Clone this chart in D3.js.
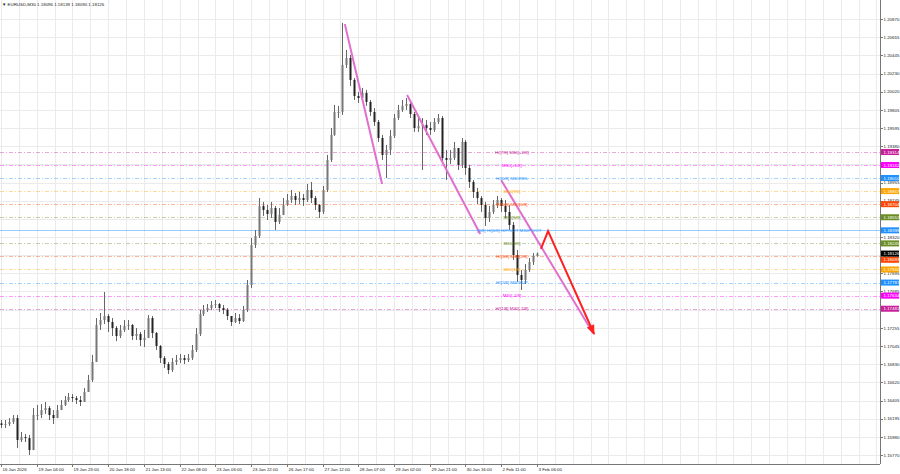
<!DOCTYPE html>
<html><head><meta charset="utf-8">
<script src="https://cdn.jsdelivr.net/npm/d3@7"></script>
<style>body{margin:0;background:#fff}svg{display:block}text{font-family:"Liberation Sans",Arial,sans-serif}</style>
</head><body><svg id="c" width="900" height="474"></svg>
<script>
const titleText = "EURUSD,M30  1.18096 1.18139 1.18090 1.18126";
const closes = [1.16121,1.16132,1.16156,1.16202,1.15945,1.15980,1.15968,1.15828,1.16238,1.16238,
1.16296,1.16319,1.16238,1.16202,1.16296,1.16355,1.16413,1.16448,1.16436,1.16413,
1.16390,1.16507,1.16647,1.16858,1.17291,1.17349,1.17396,1.17326,1.17255,1.17162,
1.17232,1.17279,1.17291,1.17162,1.17185,1.17115,1.17138,1.17372,1.17197,1.17045,
1.16904,1.16834,1.16764,1.16858,1.16881,1.16904,1.16881,1.16904,1.16998,1.17185,
1.17419,1.17466,1.17489,1.17525,1.17536,1.17489,1.17466,1.17396,1.17326,1.17372,
1.17337,1.17466,1.17759,1.18227,1.18332,1.18683,1.18636,1.18589,1.18659,1.18496,
1.18578,1.18695,1.18753,1.18800,1.18753,1.18776,1.18753,1.18870,1.18776,1.18695,
1.18613,1.18870,1.19221,1.19514,1.19783,1.19783,1.20333,1.20414,1.20157,1.19970,
1.19946,1.20005,1.19900,1.19783,1.19666,1.19478,1.19280,1.19338,1.19502,1.19712,
1.19806,1.19853,1.19876,1.19759,1.19595,1.19619,1.19631,1.19595,1.19572,1.19666,
1.19712,1.19244,1.19221,1.19244,1.19361,1.19163,1.19432,1.19127,1.18964,1.18847,
1.18776,1.18695,1.18542,1.18613,1.18695,1.18753,1.18683,1.18613,1.18461,1.18110,
1.17876,1.17817,1.17934,1.18028,1.18098,1.18126];
const highs = [1.16179,1.16179,1.16202,1.16238,1.16238,1.16039,1.16015,1.16004,1.16319,1.16355,
1.16366,1.16390,1.16343,1.16296,1.16355,1.16413,1.16460,1.16495,1.16483,1.16460,
1.16460,1.16553,1.16706,1.16940,1.17372,1.17431,1.17677,1.17419,1.17372,1.17279,
1.17291,1.17349,1.17349,1.17302,1.17255,1.17209,1.17232,1.17408,1.17396,1.17209,
1.17057,1.16928,1.16858,1.16904,1.16940,1.16951,1.16940,1.16951,1.17057,1.17255,
1.17466,1.17525,1.17536,1.17571,1.17583,1.17548,1.17525,1.17489,1.17396,1.17431,
1.17419,1.17513,1.17817,1.18308,1.18402,1.18776,1.18730,1.18695,1.18730,1.18683,
1.18659,1.18776,1.18823,1.18870,1.18835,1.18847,1.18823,1.18940,1.18964,1.18800,
1.18706,1.18917,1.19280,1.19595,1.19865,1.19853,1.20824,1.20508,1.20450,1.20180,
1.20017,1.20063,1.20040,1.19923,1.19829,1.19689,1.19514,1.19397,1.19572,1.19759,
1.19865,1.19923,1.19946,1.19900,1.19783,1.19712,1.19712,1.19689,1.19666,1.19712,
1.19759,1.19736,1.19338,1.19338,1.19432,1.19361,1.19478,1.19455,1.19163,1.18987,
1.18893,1.18800,1.18730,1.18683,1.18753,1.18800,1.18776,1.18753,1.18695,1.18496,
1.18168,1.17934,1.18004,1.18074,1.18132,1.18139];
const lows = [1.16085,1.16085,1.16109,1.16132,1.15851,1.15922,1.15922,1.15770,1.15828,1.16179,
1.16202,1.16249,1.16179,1.16132,1.16226,1.16296,1.16343,1.16390,1.16390,1.16366,
1.16343,1.16413,1.16507,1.16624,1.16858,1.17232,1.17302,1.17209,1.17162,1.17103,
1.17138,1.17209,1.17232,1.17115,1.17115,1.17045,1.17033,1.17162,1.17138,1.16998,
1.16846,1.16787,1.16717,1.16741,1.16823,1.16846,1.16834,1.16858,1.16881,1.16975,
1.17162,1.17396,1.17443,1.17466,1.17489,1.17443,1.17419,1.17349,1.17279,1.17314,
1.17302,1.17326,1.17443,1.17723,1.18191,1.18308,1.18566,1.18519,1.18542,1.18402,
1.18472,1.18613,1.18683,1.18718,1.18695,1.18706,1.18683,1.18730,1.18718,1.18636,
1.18542,1.18589,1.18847,1.19198,1.19502,1.19712,1.19748,1.20297,1.20087,1.19923,
1.19888,1.19923,1.19853,1.19736,1.19619,1.19432,1.19221,1.19010,1.19280,1.19478,
1.19689,1.19783,1.19806,1.19712,1.19549,1.19549,1.19104,1.19514,1.19514,1.19549,
1.19642,1.19174,1.18987,1.19174,1.19221,1.19104,1.19127,1.19046,1.18893,1.18776,
1.18706,1.18613,1.18449,1.18496,1.18589,1.18659,1.18613,1.18542,1.18402,1.18051,
1.17794,1.17700,1.17770,1.17911,1.17993,1.18090];
const firstOpen = 1.16140;
const lastOpen = 1.18096;

const timeLabels = ["16 Jan 2026","19 Jan 04:00","19 Jan 23:00","20 Jan 18:00","21 Jan 13:00","22 Jan 08:00","23 Jan 03:00","23 Jan 22:00","26 Jan 17:00","27 Jan 12:00","28 Jan 07:00","29 Jan 02:00","29 Jan 21:00","30 Jan 16:00","2 Feb 11:00","3 Feb 06:00"];
const timeLabelBars = [0,9,18,27,36,45,54,63,72,81,90,99,108,117,126,135];
const priceTicks = ["1.20870","1.20655","1.20445","1.20230","1.20020","1.19805","1.19595","1.19380","1.19170","1.18955","1.18745","1.18535","1.18320","1.18110","1.17895","1.17685","1.17470","1.17255","1.17045","1.16830","1.16620","1.16405","1.16195","1.15980","1.15770"];

const levelNames = ["H/[7/8] M30[+2/8]","M30[+1/8]","H/[6/8] M30RES","M30[7/8]","H/[5/8] M30[6/8]","M30[5/8]","[3/8] H/[4/8] H/PIVOT M30PIVOT","M30[3/8]","H/[3/8] M30[2/8]","M30[1/8]","H/[2/8] M30SUP","M30[-1/8]","H/[1/8] M30[-2/8]"];
const levelPrices = [1.19314,1.19162,1.19010,1.18857,1.18704,1.18551,1.18398,1.18245,1.18093,1.17940,1.17787,1.17634,1.17481];
const levelColors = ["#c8209a","#ff00ff","#1e90ff","#ffa500","#ff4500","#6b8e23","#1e90ff","#6b8e23","#ff4500","#ffa500","#1e90ff","#ff00ff","#c8209a"];

// trend lines: [barIndex, price] pairs
const trendLines = [
  [[86.6,1.20812],[96.0,1.18940]],
  [[102.3,1.19982],[120.7,1.18355]],
  [[126.0,1.18985],[149.1,1.17197]]
];
const arrowPath = [[136.0,1.18180],[137.8,1.18390],[149.4,1.17185]];

const svg = d3.select("#c");
const plotR = 880, plotB = 464;
const x = d3.scaleLinear().domain([0,220]).range([1,1+220*3.97]);
const y = d3.scaleLinear().domain([1.1577,1.2087]).range([455,19]);

// grid
const g = svg.append("g");
g.selectAll("line.hg").data(priceTicks).enter().append("line")
  .attr("x1",0).attr("x2",plotR).attr("y1",d=>Math.round(y(+d))+0.5).attr("y2",d=>Math.round(y(+d))+0.5)
  .attr("stroke","#ebebeb").attr("stroke-width",1);
const vgrid = d3.range(0,221,4.5);
g.selectAll("line.vg").data(vgrid).enter().append("line")
  .attr("y1",0).attr("y2",plotB).attr("x1",d=>Math.round(x(d))+0.5).attr("x2",d=>Math.round(x(d))+0.5)
  .attr("stroke","#ebebeb").attr("stroke-width",1);

// level lines
levelPrices.forEach((p,i)=>{
  const yy = Math.round(y(p))+0.5;
  const pivot = levelNames[i].indexOf("PIVOT")>=0;
  svg.append("line").attr("x1",0).attr("x2",plotR).attr("y1",yy).attr("y2",yy)
    .attr("stroke", levelColors[i]).attr("stroke-opacity", pivot?0.45:0.4)
    .attr("stroke-width",1).attr("stroke-dasharray", pivot?null:"4,2,1,2");
});

// candles
const bars = svg.append("g");
closes.forEach((c,i)=>{
  const o = i===0 ? firstOpen : (i===closes.length-1 ? lastOpen : closes[i-1]);
  const hi = Math.max(highs[i],o,c), lo = Math.min(lows[i],o,c);
  const cx = Math.round(x(i))+0.5;
  bars.append("line").attr("x1",cx).attr("x2",cx).attr("y1",y(hi)).attr("y2",y(lo))
    .attr("stroke","#666").attr("stroke-width",1);
  const top = y(Math.max(o,c)), bot = y(Math.min(o,c));
  bars.append("rect").attr("x",cx-1).attr("width",2).attr("y",top).attr("height",Math.max(1,bot-top))
    .attr("fill", c>=o ? "#777" : "#222");
});

// trend lines
const lineGen = d3.line().x(d=>x(d[0])).y(d=>y(d[1]));
trendLines.forEach(t=>{
  svg.append("path").attr("d",lineGen(t)).attr("fill","none").attr("stroke","#e070d0").attr("stroke-width",2);
});
// arrow
svg.append("defs").append("marker").attr("id","ah").attr("viewBox","0 0 10 10").attr("refX",9).attr("refY",5)
  .attr("markerWidth",5).attr("markerHeight",5).attr("orient","auto")
  .append("path").attr("d","M0,1 L10,5 L0,9 z").attr("fill","#ff2020");
svg.append("path").attr("d",lineGen(arrowPath)).attr("fill","none").attr("stroke","#ff2020").attr("stroke-width",2)
  .attr("marker-end","url(#ah)");

// level texts
levelPrices.forEach((p,i)=>{
  svg.append("text").attr("x", x(levelNames[i].length>20?128.0:128.7)).attr("y", y(p)+1.6)
    .attr("text-anchor","middle").attr("font-size",4.4).attr("fill",levelColors[i]).text(levelNames[i]);
});

// frame / axes
svg.append("line").attr("x1",plotR+0.5).attr("x2",plotR+0.5).attr("y1",0).attr("y2",plotB).attr("stroke","#777");
svg.append("line").attr("x1",0).attr("x2",plotR).attr("y1",plotB+0.5).attr("y2",plotB+0.5).attr("stroke","#777");

const ya = svg.append("g");
priceTicks.forEach(t=>{
  const yy = y(+t);
  ya.append("line").attr("x1",plotR).attr("x2",plotR+3).attr("y1",Math.round(yy)+0.5).attr("y2",Math.round(yy)+0.5).attr("stroke","#777");
  ya.append("text").attr("x",plotR+3.5).attr("y",yy+1.6).attr("font-size",4.4).attr("fill","#222").text(t);
});
const xa = svg.append("g");
timeLabelBars.forEach((b,i)=>{
  const xx = Math.round(x(b))+0.5;
  xa.append("line").attr("x1",xx).attr("x2",xx).attr("y1",plotB).attr("y2",plotB+3).attr("stroke","#777");
  xa.append("text").attr("x",xx+1).attr("y",plotB+7).attr("font-size",4.4).attr("fill","#222").text(timeLabels[i]);
});

// level price boxes on axis (pushed below the current-price box if they collide)
const cur = closes[closes.length-1];
const curY = y(cur);
levelPrices.forEach((p,i)=>{
  let yy = y(p);
  if (Math.abs(yy-curY) < 6.2) yy = curY + 6.2;
  svg.append("rect").attr("x",plotR+1).attr("y",yy-3).attr("width",18).attr("height",6).attr("fill",levelColors[i]);
  svg.append("text").attr("x",plotR+3.5).attr("y",yy+1.6).attr("font-size",4.4).attr("fill","#fff").text(p.toFixed(5));
});
// current price box
svg.append("rect").attr("x",plotR+1).attr("y",curY-3).attr("width",18).attr("height",6).attr("fill","#000");
svg.append("text").attr("x",plotR+3.5).attr("y",curY+1.6).attr("font-size",4.4).attr("fill","#fff").text(cur.toFixed(5));

// title
svg.append("text").attr("x",2).attr("y",5.5).attr("font-size",4.4).attr("fill","#222").text("\u25BC " + titleText);
</script></body></html>
